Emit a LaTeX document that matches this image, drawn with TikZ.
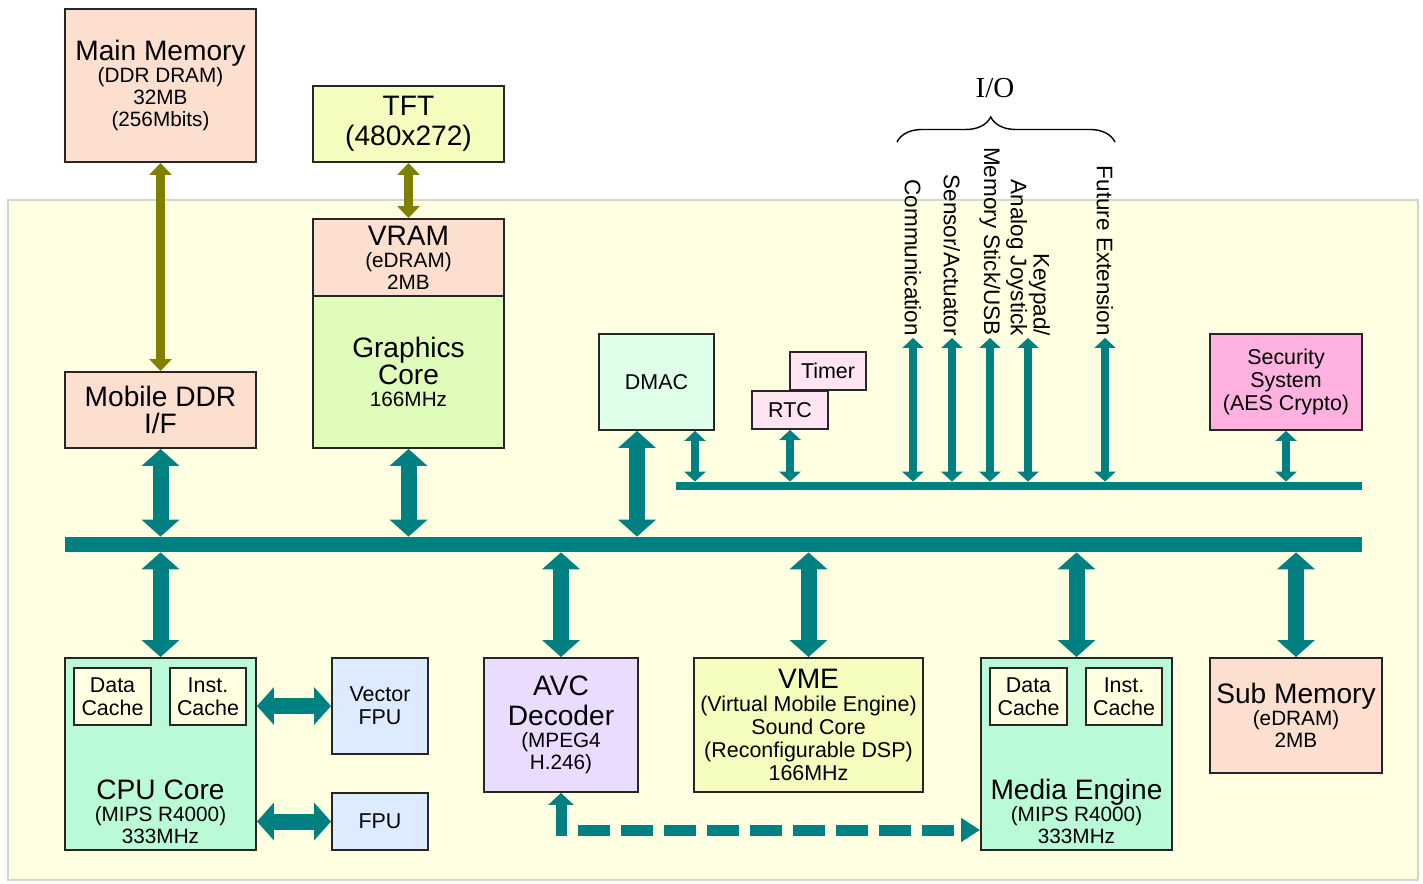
\documentclass[tikz,border=0pt]{standalone}
\usepackage{fontspec}
\setmainfont{Liberation Sans}
\newfontfamily\iofont{Liberation Serif}
\usetikzlibrary{arrows.meta,decorations.pathreplacing}

\definecolor{busteal}{RGB}{0,128,128}
\definecolor{olivebar}{RGB}{128,128,0}
\definecolor{bgyellow}{RGB}{255,255,226}
\definecolor{bgedge}{RGB}{214,214,200}
\definecolor{memfill}{RGB}{253,223,208}
\definecolor{tftfill}{RGB}{244,253,190}
\definecolor{gfxfill}{RGB}{224,252,186}
\definecolor{dmacfill}{RGB}{224,255,232}
\definecolor{rtcfill}{RGB}{255,228,242}
\definecolor{secfill}{RGB}{255,178,224}
\definecolor{corefill}{RGB}{186,250,214}
\definecolor{cachefill}{RGB}{255,255,226}
\definecolor{fpufill}{RGB}{220,235,255}
\definecolor{avcfill}{RGB}{234,220,255}

\newcommand{\fbig}{\fontsize{16}{17}\selectfont}
\newcommand{\fsm}{\fontsize{11.8}{12.5}\selectfont}
\newcommand{\fmid}{\fontsize{12.2}{13}\selectfont}

\tikzset{
  blk/.style={draw=black!85, line width=1.1pt, inner sep=0pt, align=center, font=\fsm},
  bus/.style={fill=busteal, inner sep=0pt},
  fatlink/.style={busteal, line width=0.32cm,
    {Triangle[width=0.74cm,length=0.34cm]}-{Triangle[width=0.74cm,length=0.34cm]}},
  thinlink/.style={busteal, line width=0.16cm,
    {Triangle[width=0.42cm,length=0.2cm]}-{Triangle[width=0.42cm,length=0.2cm]}},
  olivelink/.style={olivebar, line width=0.18cm,
    {Triangle[width=0.44cm,length=0.24cm]}-{Triangle[width=0.44cm,length=0.24cm]}},
  dashlink/.style={busteal, line width=0.22cm, dash pattern=on 0.64cm off 0.22cm,
    {Triangle[width=0.5cm,length=0.24cm]}-{Triangle[width=0.46cm,length=0.38cm]}},
  iolabel/.style={rotate=-90, anchor=east, inner sep=1pt, font=\fontsize{12.8}{13}\selectfont},
}

\begin{document}
\begin{tikzpicture}
\useasboundingbox (0,0) rectangle (28.46,17.66);

% Chip area
\fill[bgyellow, draw=bgedge, line width=0.6pt] (0.16,0.06) rectangle (28.36,13.66);

% Off-chip parts
\node[blk, fill=memfill, minimum width=3.82cm, minimum height=3.06cm] (mainmem) at (3.21,15.95)
  {{\fbig Main Memory}\\(DDR DRAM)\\32MB\\(256Mbits)};
\node[blk, fill=tftfill, minimum width=3.82cm, minimum height=1.52cm] (tft) at (8.17,15.18)
  {{\fbig TFT}\\[4.5pt]{\fbig (480x272)}};

% Buses
\node[bus, minimum width=25.94cm, minimum height=0.30cm] (mbus) at (14.27,6.77) {};
\node[bus, minimum width=13.72cm, minimum height=0.16cm] (iobus) at (20.38,7.94) {};

% Upper blocks
\node[blk, fill=memfill, minimum width=3.82cm, minimum height=1.54cm] (vram) at (8.17,12.51)
  {{\fbig VRAM}\\(eDRAM)\\2MB};
\node[blk, fill=gfxfill, minimum width=3.82cm, minimum height=3.04cm] (gfx) at (8.17,10.22)
  {{\fbig Graphics}\\{\fbig Core}\\166MHz};
\node[blk, fill=memfill, minimum width=3.82cm, minimum height=1.52cm] (mddr) at (3.21,9.46)
  {{\fbig Mobile DDR}\\[2.8pt]{\fbig I/F}};
\node[blk, fill=dmacfill, minimum width=2.30cm, minimum height=1.92cm, font=\fmid] (dmac) at (13.13,10.02) {DMAC};
\node[blk, fill=rtcfill, minimum width=1.52cm, minimum height=0.76cm, font=\fmid] (timer) at (16.56,10.24) {Timer};
\node[blk, fill=rtcfill, minimum width=1.52cm, minimum height=0.76cm, font=\fmid] (rtc) at (15.80,9.46) {RTC};
\node[blk, fill=secfill, minimum width=3.04cm, minimum height=1.92cm, font=\fmid] (secu) at (25.72,10.02)
  {Security\\System\\(AES Crypto)};

% Lower blocks
\node[blk, fill=corefill, minimum width=3.82cm, minimum height=3.84cm] (cpu) at (3.21,2.58) {};
\node[blk, fill=cachefill, minimum width=1.54cm, minimum height=1.14cm, font=\fmid] (cpudc) at (2.25,3.73) {Data\\Cache};
\node[blk, fill=cachefill, minimum width=1.52cm, minimum height=1.14cm, font=\fmid] (cpuic) at (4.16,3.73) {Inst.\\Cache};
\node[align=center, anchor=south, inner sep=0pt, font=\fsm] (cpulbl) at ([yshift=0.14cm]cpu.south)
  {{\fbig CPU Core}\\(MIPS R4000)\\333MHz};
\node[blk, fill=fpufill, minimum width=1.92cm, minimum height=1.92cm, font=\fmid] (vfpu) at (7.60,3.54) {Vector\\FPU};
\node[blk, fill=fpufill, minimum width=1.92cm, minimum height=1.14cm, font=\fmid] (fpu) at (7.60,1.23) {FPU};
\node[blk, fill=avcfill, minimum width=3.08cm, minimum height=2.68cm] (avc) at (11.22,3.16)
  {{\fbig AVC}\\[4.5pt]{\fbig Decoder}\\(MPEG4\\H.246)};
\node[blk, fill=tftfill, minimum width=4.58cm, minimum height=2.68cm, font=\fmid] (vme) at (16.17,3.16)
  {{\fbig VME}\\(Virtual Mobile Engine)\\Sound Core\\(Reconfigurable DSP)\\166MHz};
\node[blk, fill=corefill, minimum width=3.82cm, minimum height=3.84cm] (media) at (21.53,2.58) {};
\node[blk, fill=cachefill, minimum width=1.54cm, minimum height=1.14cm, font=\fmid] (medc) at (20.57,3.73) {Data\\Cache};
\node[blk, fill=cachefill, minimum width=1.52cm, minimum height=1.14cm, font=\fmid] (meic) at (22.48,3.73) {Inst.\\Cache};
\node[align=center, anchor=south, inner sep=0pt, font=\fsm] (medlbl) at ([yshift=0.14cm]media.south)
  {{\fbig Media Engine}\\(MIPS R4000)\\333MHz};
\node[blk, fill=memfill, minimum width=3.44cm, minimum height=2.30cm] (submem) at (25.92,3.35)
  {{\fbig Sub Memory}\\(eDRAM)\\2MB};

% I/O labels
\node[font=\iofont\fontsize{16.5}{17}\selectfont] (iotitle) at (19.90,15.90) {I/O};
\draw[decorate, decoration={brace, amplitude=0.5cm, aspect=0.43}, line width=0.8pt]
  (17.94,14.82) -- (22.30,14.82);
\node[iolabel] (comm) at (18.26,10.90) {Communication};
\node[iolabel] (sens) at (19.04,10.90) {Sensor/Actuator};
\node[iolabel] (mstick) at (19.80,10.90) {Memory Stick/USB};
\node[iolabel, align=right] (keypad) at (20.56,10.90) {Keypad/\\Analog Joystick};
\node[iolabel] (future) at (22.10,10.90) {Future Extension};

% Off-chip links
\draw[olivelink] (mainmem.south) -- (mddr.north);
\draw[olivelink] (tft.south) -- (vram.north);

% Main bus links
\draw[fatlink] (mddr.south) -- (mddr.south |- mbus.north);
\draw[fatlink] (gfx.south) -- (gfx.south |- mbus.north);
\draw[fatlink] ([xshift=-0.39cm]dmac.south) -- ([xshift=-0.39cm]dmac.south |- mbus.north);
\draw[fatlink] (cpu.north) -- (cpu.north |- mbus.south);
\draw[fatlink] (avc.north) -- (avc.north |- mbus.south);
\draw[fatlink] (vme.north) -- (vme.north |- mbus.south);
\draw[fatlink] (media.north) -- (media.north |- mbus.south);
\draw[fatlink] (submem.north) -- (submem.north |- mbus.south);

% FPU links
\draw[fatlink] (cpu.east |- vfpu.west) -- (vfpu.west);
\draw[fatlink] (cpu.east |- fpu.west) -- (fpu.west);

% Peripheral bus links
\draw[thinlink] ([xshift=0.77cm]dmac.south) -- ([xshift=0.77cm]dmac.south |- iobus.north);
\draw[thinlink] (rtc.south) -- (rtc.south |- iobus.north);
\draw[thinlink] (secu.south) -- (secu.south |- iobus.north);
\foreach \io in {comm,sens,mstick,keypad,future}
  \draw[thinlink] (\io.east |- iobus.north) -- (\io.east);

% AVC to Media Engine
\coordinate (avclink) at (11.22,1.06);
\draw[dashlink] (avc.south) -- (avclink) -- (avclink -| media.west);
\end{tikzpicture}
\end{document}
